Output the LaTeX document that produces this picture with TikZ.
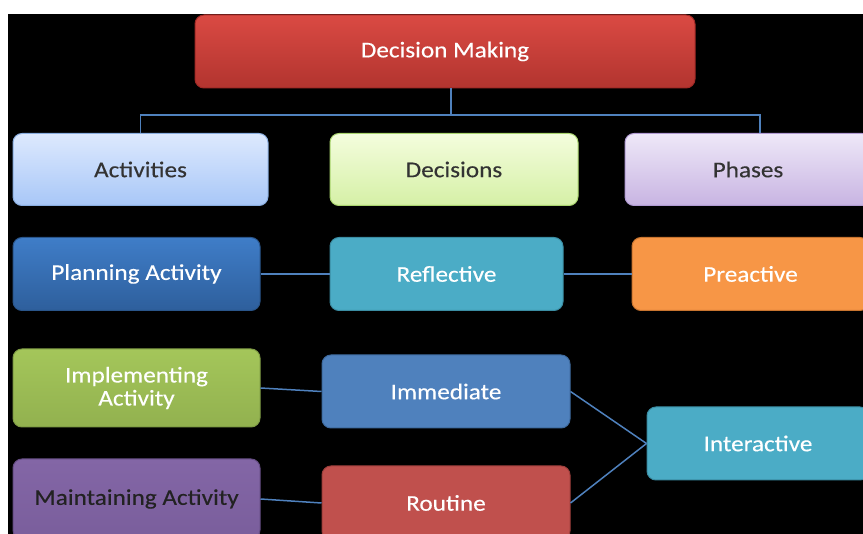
\documentclass[tikz,border=0pt]{standalone}
\usepackage{fontspec}
\setmainfont{Carlito}[FakeStretch=1.12,FakeBold=0.3]
\begin{document}
\begin{tikzpicture}[x=1pt,y=-1pt,
  box/.style={rounded corners=9pt, line width=1pt, inner sep=0pt, align=center,
    font=\fontsize{22.5}{25}\selectfont, text=white},
  conn/.style={draw=lineblue, line width=1.5pt}]
\definecolor{lineblue}{HTML}{4F81BD}
\definecolor{darktext}{HTML}{333333}
\clip (0,0) rectangle (863,534);
\fill[white] (0,0) rectangle (863,534);
\fill[black] (8,14) rectangle (863,534);

\node[box, draw={rgb,255:red,160;green,42;blue,38}, top color={rgb,255:red,218;green,74;blue,67}, bottom color={rgb,255:red,178;green,52;blue,47},
  minimum width=500, minimum height=73] (dm) at (445,51.5) {Decision Making};

\node[box, text=darktext, draw={rgb,255:red,138;green,174;blue,224}, top color={rgb,255:red,221;green,233;blue,254}, bottom color={rgb,255:red,168;green,199;blue,247},
  minimum width=255, minimum height=72] (act) at (140.5,169.5) {Activities};
\node[box, text=darktext, draw={rgb,255:red,169;green,212;blue,110}, top color={rgb,255:red,244;green,253;blue,221}, bottom color={rgb,255:red,213;green,240;blue,166},
  minimum width=248, minimum height=72] (dec) at (454,169.5) {Decisions};
\node[box, text=darktext, draw={rgb,255:red,177;green,155;blue,211}, top color={rgb,255:red,238;green,232;blue,248}, bottom color={rgb,255:red,200;green,180;blue,226},
  minimum width=246, minimum height=72] (pha) at (748,169.5) {Phases};

\node[box, draw={rgb,255:red,42;green,85;blue,138}, top color={rgb,255:red,63;green,125;blue,200}, bottom color={rgb,255:red,46;green,95;blue,156},
  minimum width=247, minimum height=73] (plan) at (136.5,274) {Planning Activity};
\node[box, draw={rgb,255:red,59;green,141;blue,163}, fill={rgb,255:red,75;green,172;blue,198},
  minimum width=233, minimum height=73] (ref) at (446.5,274) {Reflective};
\node[box, draw={rgb,255:red,200;green,116;blue,47}, fill={rgb,255:red,247;green,150;blue,70},
  minimum width=237, minimum height=73] (pre) at (750.5,274) {Preactive};

\node[box, draw={rgb,255:red,127;green,156;blue,69}, top color={rgb,255:red,164;green,198;blue,90}, bottom color={rgb,255:red,146;green,177;blue,79},
  minimum width=247, minimum height=78] (imp) at (136.5,388) {Implementing\\[-2pt]Activity};
\node[box, draw={rgb,255:red,62;green,106;blue,158}, fill={rgb,255:red,79;green,129;blue,189},
  minimum width=248, minimum height=73] (imm) at (446,391.5) {Immediate};
\node[box, draw={rgb,255:red,59;green,141;blue,163}, fill={rgb,255:red,75;green,172;blue,198},
  minimum width=222, minimum height=73] (int) at (758,443.5) {Interactive};

\node[box, text={rgb,255:red,34;green,34;blue,34}, draw={rgb,255:red,101;green,77;blue,131}, top color={rgb,255:red,131;green,102;blue,166}, bottom color={rgb,255:red,122;green,94;blue,156},
  minimum width=247, minimum height=80] (mai) at (136.5,499) {Maintaining Activity};
\node[box, draw={rgb,255:red,158;green,63;blue,60}, fill={rgb,255:red,192;green,80;blue,77},
  minimum width=248, minimum height=74] (rou) at (446,503) {Routine};

\coordinate (j) at (451,115);
\draw[conn] (j |- dm.south) -- (j);
\draw[conn] (act.north) |- (j) -| ([xshift=12pt]pha.north);

\draw[conn] (plan.east) -- (ref.west);
\draw[conn] (ref.east) -- (pre.west);
\draw[conn] (imp.east) -- (imm.west);
\draw[conn] (mai.east) -- (rou.west);
\draw[conn] (imm.east) -- (int.west);
\draw[conn] (rou.east) -- (int.west);
\end{tikzpicture}
\end{document}
